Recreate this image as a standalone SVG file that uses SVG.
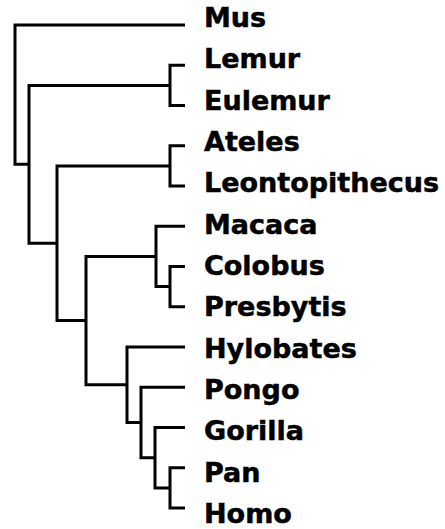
<svg xmlns="http://www.w3.org/2000/svg" width="445" height="529" viewBox="0 0 445 529">
<style>
.e{fill:none;stroke:#000;stroke-width:3;stroke-linejoin:miter;stroke-linecap:butt}
.t{font-family:"DejaVu Sans","Verdana",sans-serif;font-weight:bold;font-size:27px;fill:#000;stroke:#000;stroke-width:0.5}
</style>
<rect width="445" height="529" fill="#fff"/>
<g id="connectors">
<path class="e" d="M185,25 H15 V164.3 H29"/>
<path class="e" d="M170,85.4 H29 V243.2 H57"/>
<path class="e" d="M185,65.25 H170 V105.5 H185"/>
<path class="e" d="M170,165.9 H57 V320.6 H86"/>
<path class="e" d="M185,145.75 H170 V186 H185"/>
<path class="e" d="M156,256.4 H86 V384.7 H127"/>
<path class="e" d="M185,226.25 H156 V286.6 H170"/>
<path class="e" d="M185,266.5 H170 V306.75 H185"/>
<path class="e" d="M185,347 H127 V422.5 H141"/>
<path class="e" d="M185,387.25 H141 V457.7 H155"/>
<path class="e" d="M185,427.5 H155 V487.9 H170"/>
<path class="e" d="M185,467.75 H170 V508 H185"/>
</g>
<g id="Mus"><text class="t" x="204" y="27">Mus</text></g>
<g id="Lemur"><text class="t" x="204" y="68.3">Lemur</text></g>
<g id="Eulemur"><text class="t" x="204" y="109.7">Eulemur</text></g>
<g id="Ateles"><text class="t" x="204" y="151">Ateles</text></g>
<g id="Leontopithecus"><text class="t" x="204" y="192.3">Leontopithecus</text></g>
<g id="Macaca"><text class="t" x="204" y="233.7">Macaca</text></g>
<g id="Colobus"><text class="t" x="204" y="275">Colobus</text></g>
<g id="Presbytis"><text class="t" x="204" y="316.3">Presbytis</text></g>
<g id="Hylobates"><text class="t" x="204" y="357.7">Hylobates</text></g>
<g id="Pongo"><text class="t" x="204" y="399">Pongo</text></g>
<g id="Gorilla"><text class="t" x="204" y="440.3">Gorilla</text></g>
<g id="Pan"><text class="t" x="204" y="481.7">Pan</text></g>
<g id="Homo"><text class="t" x="204" y="523">Homo</text></g>
</svg>
